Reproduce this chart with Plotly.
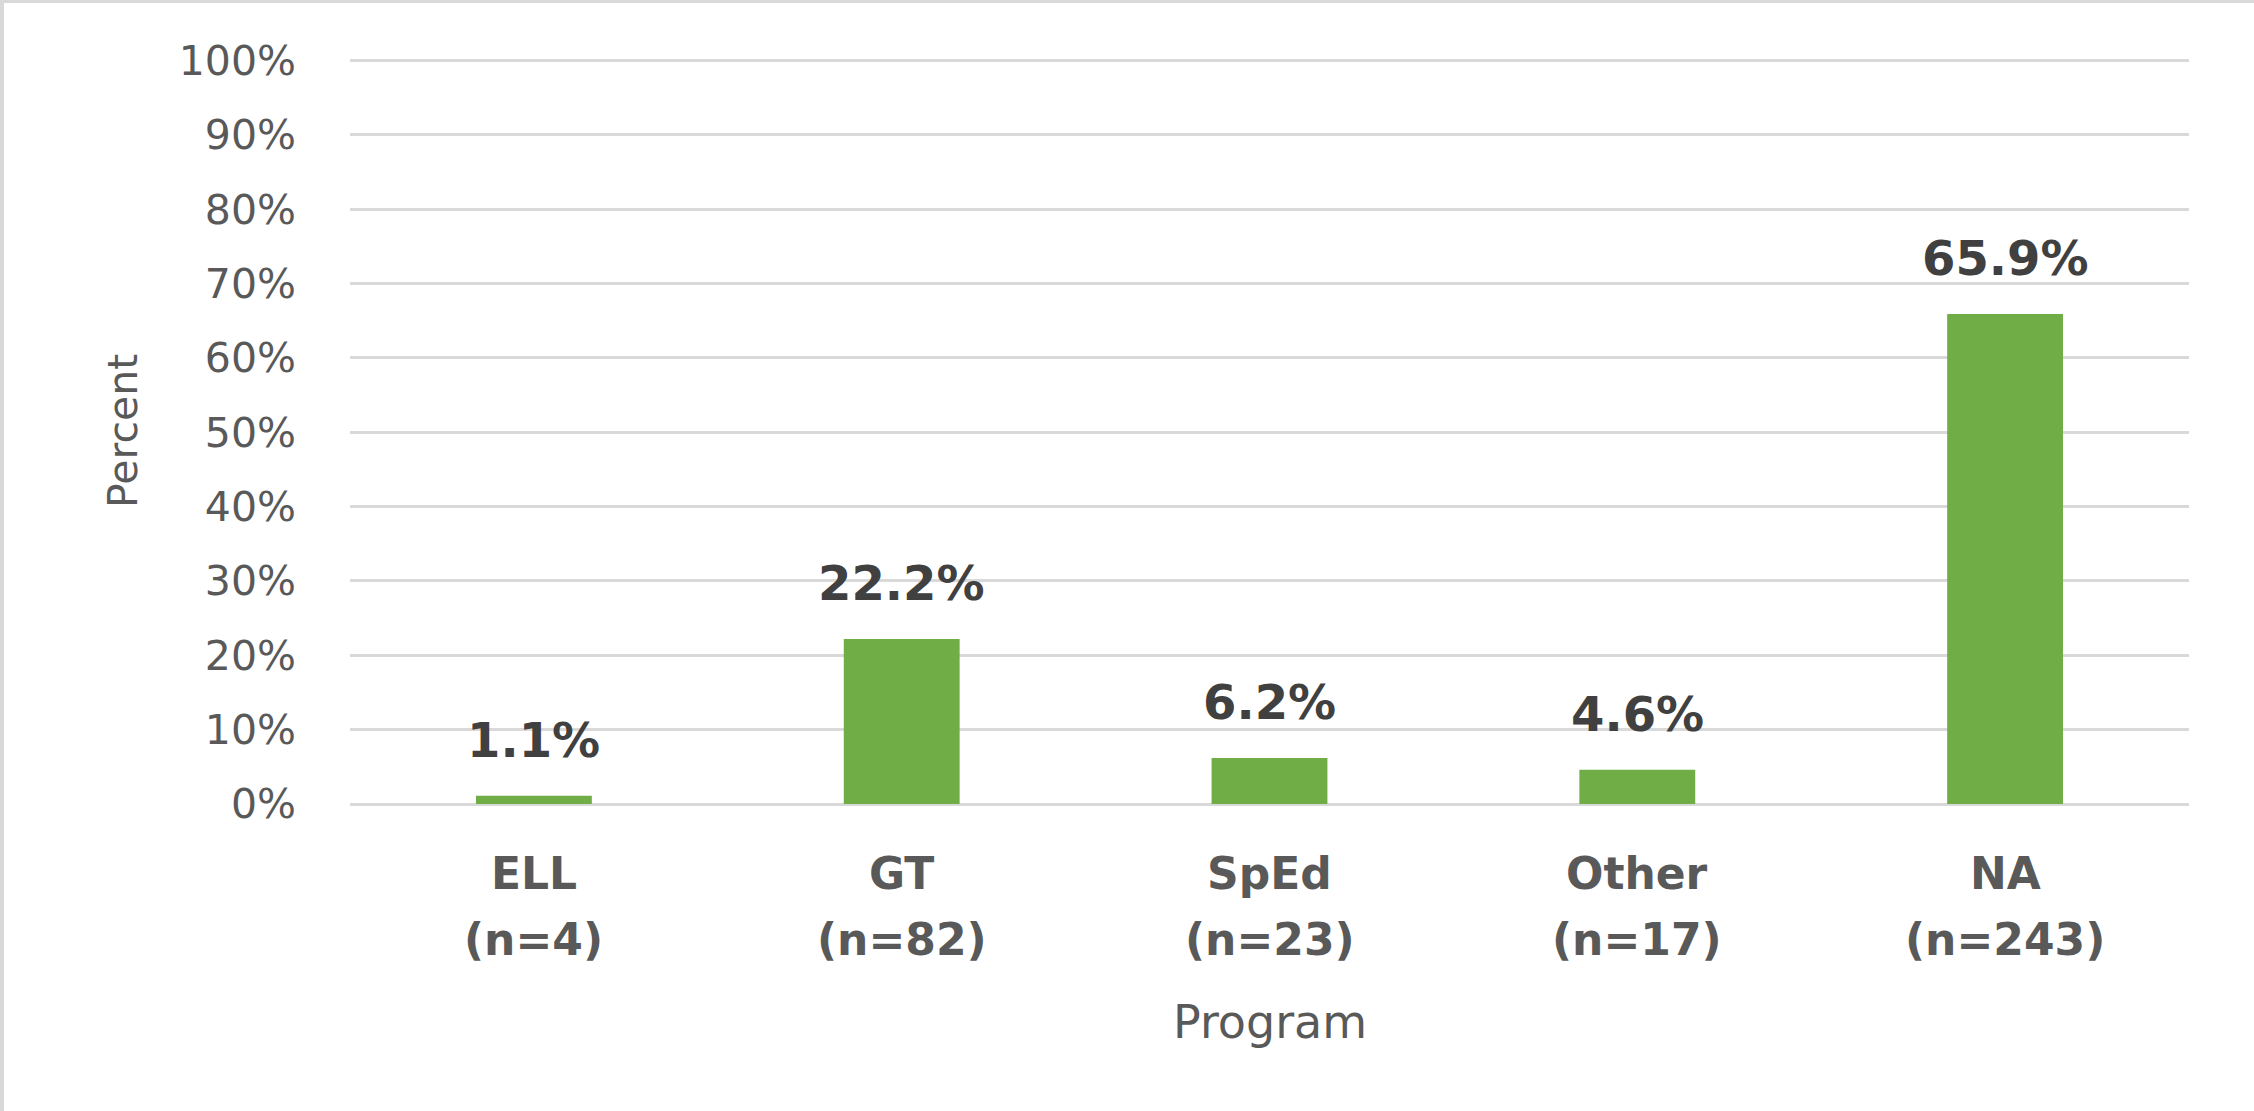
import plotly.graph_objects as go

categories = ["ELL", "GT", "SpEd", "Other", "NA"]
counts = [4, 82, 23, 17, 243]
percents = [1.1, 22.2, 6.2, 4.6, 65.9]
y_ticks = [0, 10, 20, 30, 40, 50, 60, 70, 80, 90, 100]
y_tick_labels = [f"{v}%" for v in y_ticks]
n_labels = [f"(n={n})" for n in counts]

W, H = 2254, 1111
L, R, T, B = 350, 65, 53, 307
PW, PH = W - L - R, H - T - B

FONT = "DejaVu Sans"

fig = go.Figure()
fig.add_trace(go.Bar(
    x=categories, y=percents,
    marker=dict(color="#70AD47", line=dict(width=0)),
    width=0.315,
    hoverinfo="skip",
))

# data labels
for c, p in zip(categories, percents):
    fig.add_annotation(
        x=c, y=p, xref="x", yref="y",
        text=f"{p:.1f}%", showarrow=False,
        yanchor="middle", yshift=56,
        font=dict(family=FONT, size=48, color="#404040", weight="bold"),
    )

# two-line category labels
for c, nl in zip(categories, n_labels):
    fig.add_annotation(
        x=c, y=0, xref="x", yref="paper",
        text=c, showarrow=False, yanchor="middle", yshift=-69,
        font=dict(family=FONT, size=44, color="#595959", weight="bold"),
    )
    fig.add_annotation(
        x=c, y=0, xref="x", yref="paper",
        text=nl, showarrow=False, yanchor="middle", yshift=-135,
        font=dict(family=FONT, size=44, color="#595959", weight="bold"),
    )

fig.add_annotation(
    x=(123 - L) / PW, y=(804 - 431) / PH, xref="paper", yref="paper",
    text="Percent", textangle=-90, showarrow=False,
    xanchor="center", yanchor="middle",
    font=dict(family=FONT, size=41, color="#595959"),
)
fig.add_annotation(
    x=0.5, y=-(1022 - (H - B)) / PH, xref="paper", yref="paper",
    text="Program", showarrow=False,
    xanchor="center", yanchor="middle",
    font=dict(family=FONT, size=46, color="#595959"),
)

# outer chart border (top and left edges visible in the reference)
fig.add_shape(type="line", xref="paper", yref="paper",
              x0=-L / PW, x1=1 + R / PW,
              y0=1 + (T - 1.5) / PH, y1=1 + (T - 1.5) / PH,
              line=dict(color="#D9D9D9", width=3), layer="below")
fig.add_shape(type="line", xref="paper", yref="paper",
              x0=-(L - 2) / PW, x1=-(L - 2) / PW,
              y0=-B / PH, y1=1 + T / PH,
              line=dict(color="#D9D9D9", width=4), layer="below")

fig.update_layout(
    width=W, height=H,
    margin=dict(l=L, r=R, t=T, b=B, autoexpand=False),
    paper_bgcolor="white", plot_bgcolor="white",
    showlegend=False,
)
fig.update_xaxes(
    showticklabels=False, showgrid=False, showline=False, ticks="",
)
fig.update_yaxes(
    range=[0, 101], tickvals=y_ticks, ticktext=y_tick_labels,
    tickfont=dict(family=FONT, size=41, color="#595959"),
    showgrid=True, gridcolor="#D9D9D9", gridwidth=3,
    zeroline=True, zerolinecolor="#D9D9D9", zerolinewidth=3,
    showline=False, ticks="", ticklabelstandoff=53,
)

fig.write_html("out.html", config={"displayModeBar": False},
               post_script="document.body.style.margin='0px';")
